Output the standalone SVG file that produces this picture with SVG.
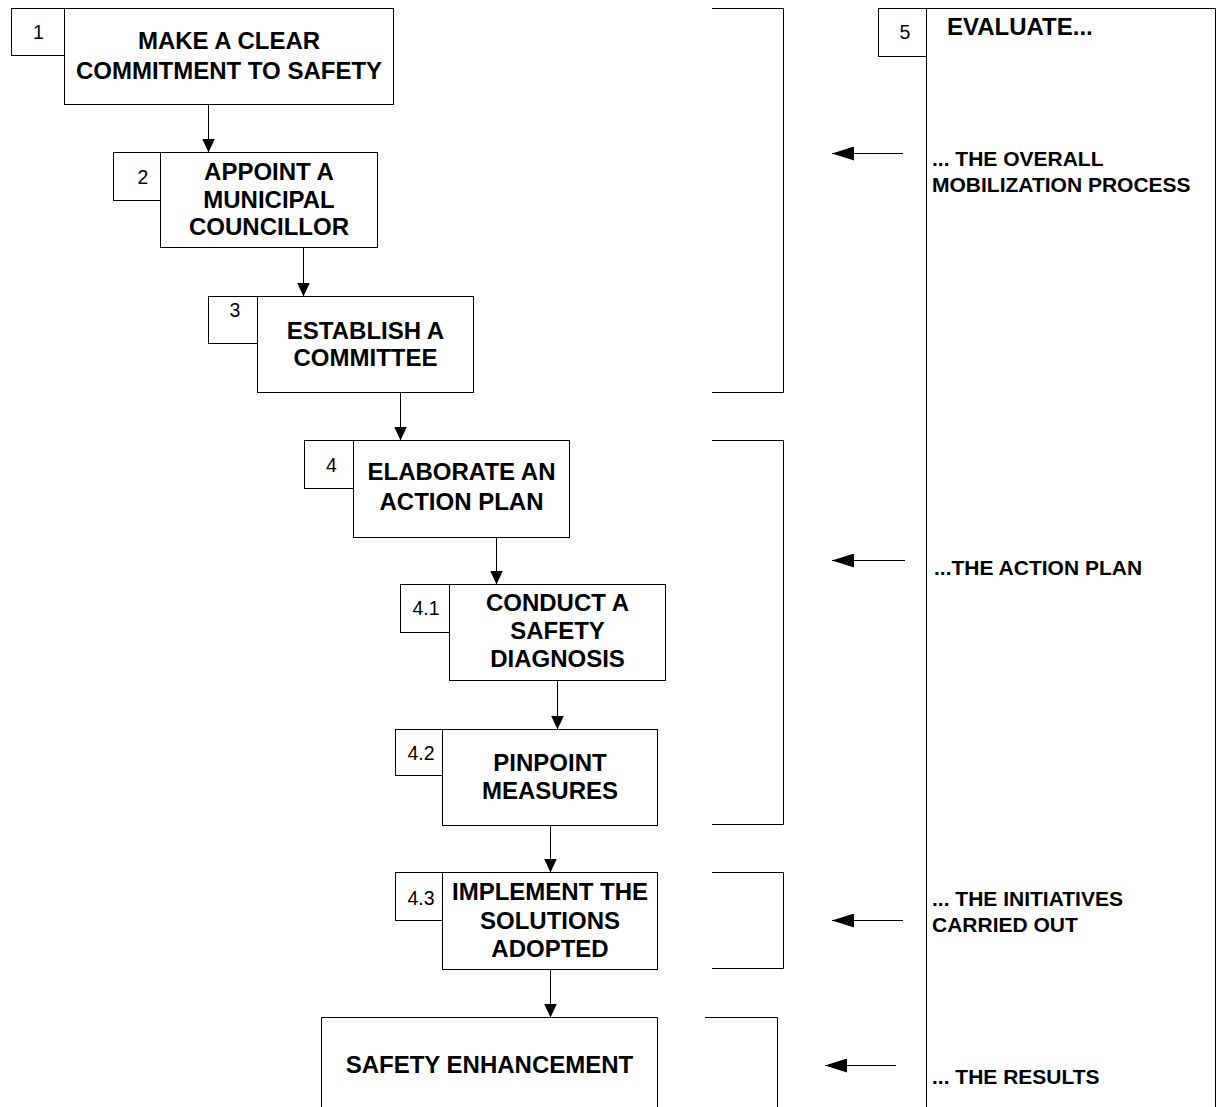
<svg xmlns="http://www.w3.org/2000/svg" width="1217" height="1107" viewBox="0 0 1217 1107">
<style>
.box{fill:#fff;stroke:#000;stroke-width:1}
.ln{fill:none;stroke:#000;stroke-width:1}
.t{font-family:"Liberation Sans",Arial,sans-serif;font-weight:bold;font-size:24px;fill:#000;text-anchor:middle}
.n{font-family:"Liberation Sans",Arial,sans-serif;font-size:19.5px;fill:#000;text-anchor:middle}
.s{font-family:"Liberation Sans",Arial,sans-serif;font-weight:bold;font-size:21px;fill:#000}
</style>
<defs>
<marker id="av" markerUnits="userSpaceOnUse" markerWidth="14" markerHeight="13" viewBox="0 0 14 13" refX="14" refY="6.5" orient="auto"><path d="M0,0 L14,6.5 L0,13 z" fill="#000"/></marker>
<marker id="ah" markerUnits="userSpaceOnUse" markerWidth="22" markerHeight="14" viewBox="0 0 22 14" refX="22" refY="7" orient="auto"><path d="M0,0 L22,7 L0,14 z" fill="#000"/></marker>
</defs>
<rect width="1217" height="1107" fill="#fff"/>

<g id="connectors">
<line class="ln" x1="208.5" y1="104.5" x2="208.5" y2="152.5" marker-end="url(#av)"/>
<line class="ln" x1="303.5" y1="247.5" x2="303.5" y2="296.5" marker-end="url(#av)"/>
<line class="ln" x1="400.5" y1="392.5" x2="400.5" y2="440.5" marker-end="url(#av)"/>
<line class="ln" x1="496.5" y1="537.5" x2="496.5" y2="584.5" marker-end="url(#av)"/>
<line class="ln" x1="557.5" y1="680.5" x2="557.5" y2="729.5" marker-end="url(#av)"/>
<line class="ln" x1="550.5" y1="825.5" x2="550.5" y2="872.5" marker-end="url(#av)"/>
<line class="ln" x1="550.5" y1="969.5" x2="550.5" y2="1017.5" marker-end="url(#av)"/>
<line class="ln" x1="903" y1="153.5" x2="832" y2="153.5" marker-end="url(#ah)"/>
<line class="ln" x1="905" y1="560.5" x2="832" y2="560.5" marker-end="url(#ah)"/>
<line class="ln" x1="903" y1="920.5" x2="832" y2="920.5" marker-end="url(#ah)"/>
<line class="ln" x1="896" y1="1065.5" x2="825" y2="1065.5" marker-end="url(#ah)"/>
</g>

<g id="brackets">
<path class="ln" d="M712,8.5 H783.5 V392.5 H712"/>
<path class="ln" d="M712,440.5 H783.5 V824.5 H712"/>
<path class="ln" d="M712,872.5 H783.5 V968.5 H712"/>
<path class="ln" d="M705,1017.5 H777.5 V1110"/>
</g>

<g id="node1">
<rect class="box" x="11.5" y="8.5" width="53" height="47"/>
<rect class="box" x="64.5" y="8.5" width="329" height="96"/>
<text class="n" x="38.5" y="39">1</text>
<text class="t" x="229" y="49">MAKE A CLEAR</text>
<text class="t" x="229" y="79">COMMITMENT TO SAFETY</text>
</g>

<g id="node2">
<rect class="box" x="113.5" y="152.5" width="47" height="48"/>
<rect class="box" x="160.5" y="152.5" width="217" height="95"/>
<text class="n" x="143" y="184">2</text>
<text class="t" x="269" y="180">APPOINT A</text>
<text class="t" x="269" y="207.5">MUNICIPAL</text>
<text class="t" x="269" y="235">COUNCILLOR</text>
</g>

<g id="node3">
<rect class="box" x="208.5" y="296.5" width="49" height="47"/>
<rect class="box" x="257.5" y="296.5" width="216" height="96"/>
<text class="n" x="235" y="317">3</text>
<text class="t" x="365.5" y="338.5">ESTABLISH A</text>
<text class="t" x="365.5" y="366">COMMITTEE</text>
</g>

<g id="node4">
<rect class="box" x="304.5" y="440.5" width="49" height="48"/>
<rect class="box" x="353.5" y="440.5" width="216" height="97"/>
<text class="n" x="331.5" y="472">4</text>
<text class="t" x="461.5" y="480">ELABORATE AN</text>
<text class="t" x="461.5" y="510">ACTION PLAN</text>
</g>

<g id="node41">
<rect class="box" x="400.5" y="584.5" width="49" height="48"/>
<rect class="box" x="449.5" y="584.5" width="216" height="96"/>
<text class="n" x="426" y="615">4.1</text>
<text class="t" x="557.5" y="610.5">CONDUCT A</text>
<text class="t" x="557.5" y="639">SAFETY</text>
<text class="t" x="557.5" y="667">DIAGNOSIS</text>
</g>

<g id="node42">
<rect class="box" x="395.5" y="729.5" width="53" height="46"/>
<rect class="box" x="442.5" y="729.5" width="215" height="96"/>
<text class="n" x="421" y="760">4.2</text>
<text class="t" x="550" y="770.5">PINPOINT</text>
<text class="t" x="550" y="798.5">MEASURES</text>
</g>

<g id="node43">
<rect class="box" x="395.5" y="872.5" width="53" height="48"/>
<rect class="box" x="442.5" y="872.5" width="215" height="97"/>
<text class="n" x="421" y="905">4.3</text>
<text class="t" x="550" y="900">IMPLEMENT THE</text>
<text class="t" x="550" y="928.5">SOLUTIONS</text>
<text class="t" x="550" y="956.5">ADOPTED</text>
</g>

<g id="nodeSE">
<path class="box" d="M321.5,1110 V1017.5 H657.5 V1110"/>
<text class="t" x="489.5" y="1073">SAFETY ENHANCEMENT</text>
</g>

<g id="node5">
<rect class="box" x="878.5" y="8.5" width="48" height="48"/>
<path class="ln" d="M926.5,1110 V8.5 H1215.5 V1110"/>
<text class="n" x="905" y="39">5</text>
<text class="t" x="947" y="35" style="text-anchor:start">EVALUATE...</text>
<text class="s" x="932" y="165.5">... THE OVERALL</text>
<text class="s" x="932" y="191.5">MOBILIZATION PROCESS</text>
<text class="s" x="934" y="575">...THE ACTION PLAN</text>
<text class="s" x="932" y="905.5">... THE INITIATIVES</text>
<text class="s" x="932" y="931.5">CARRIED OUT</text>
<text class="s" x="932" y="1084">... THE RESULTS</text>
</g>
</svg>
